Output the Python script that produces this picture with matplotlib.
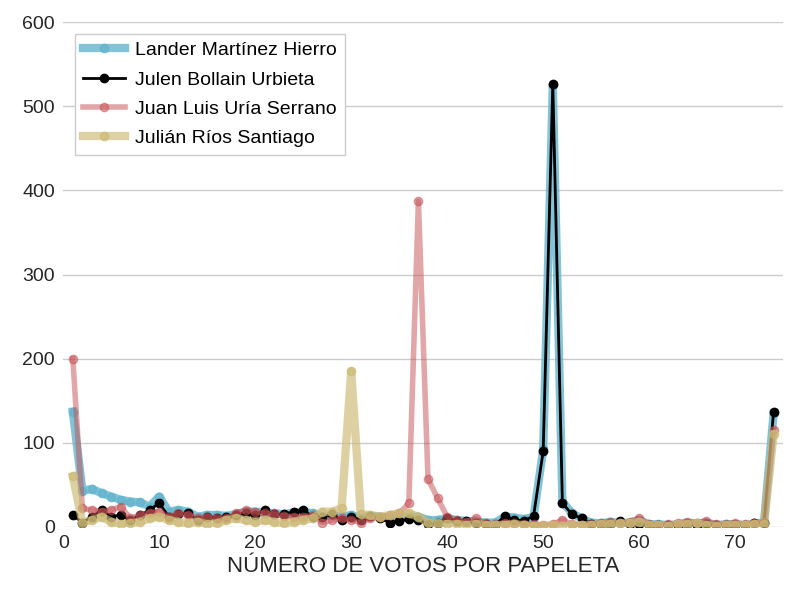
import numpy as np
import matplotlib.pyplot as plt

# votos por papeleta: 1..74
x = np.arange(1, 75)

lander = [137, 43, 45, 40, 36, 32, 30, 29, 24, 36,
          18, 20, 18, 12, 14, 14, 13, 15, 18, 18,
          17, 16, 15, 17, 18, 16, 12, 14, 12, 14,
          10, 13, 12, 10, 10, 12, 12, 8, 8, 10,
          8, 7, 6, 5, 5, 12, 11, 9, 12, 92,
          525, 30, 16, 10, 5, 4, 6, 4, 5, 8,
          3, 3, 2, 3, 5, 4, 5, 2, 3, 3,
          2, 4, 5, 135]

julen = [14, 5, 12, 20, 12, 14, 8, 14, 20, 28,
         12, 15, 16, 8, 12, 11, 12, 14, 17, 14,
         20, 15, 15, 18, 20, 12, 12, 15, 8, 12,
         8, 13, 10, 5, 7, 9, 8, 3, 4, 10,
         7, 7, 4, 3, 2, 13, 8, 7, 13, 90,
         527, 28, 15, 10, 3, 3, 3, 7, 3, 3,
         2, 2, 2, 2, 3, 2, 3, 2, 2, 2,
         2, 5, 4, 137]

juan_luis = [200, 22, 20, 18, 20, 24, 10, 14, 17, 18,
             12, 16, 14, 10, 12, 10, 10, 16, 20, 18,
             16, 15, 13, 12, 12, 14, 5, 8, 10, 8,
             5, 10, 12, 14, 16, 28, 387, 57, 34, 12,
             8, 6, 10, 4, 3, 5, 4, 3, 3, 2,
             3, 8, 3, 2, 3, 5, 6, 4, 6, 10,
             3, 2, 3, 4, 6, 5, 7, 3, 3, 5,
             3, 4, 6, 115]

julian = [60, 5, 8, 12, 6, 3, 4, 6, 10, 12,
          8, 6, 4, 6, 3, 4, 8, 10, 8, 6,
          8, 6, 4, 6, 8, 10, 18, 18, 22, 185,
          15, 14, 12, 14, 16, 16, 12, 5, 4, 3,
          3, 2, 3, 2, 2, 2, 3, 2, 1, 1,
          2, 1, 2, 2, 2, 3, 3, 4, 4, 6,
          2, 2, 1, 3, 3, 4, 2, 1, 2, 2,
          2, 3, 3, 110]

plt.rcParams['font.family'] = ['Liberation Sans', 'DejaVu Sans']

fig = plt.figure(figsize=(8, 6), dpi=100)
ax = fig.add_axes([0.079, 0.122, 0.900, 0.841])

ax.plot(x, lander, color='#64b5cd', lw=6, alpha=0.8, marker='o', ms=6, label='Lander Martínez Hierro')
ax.plot(x, julen, color='black', lw=2, marker='o', ms=6, label='Julen Bollain Urbieta')
ax.plot(x, juan_luis, color='#c44e52', lw=4, alpha=0.5, marker='o', ms=6, label='Juan Luis Uría Serrano')
ax.plot(x, julian, color='#ccb974', lw=6, alpha=0.65, marker='o', ms=6, label='Julián Ríos Santiago')

ax.set_xlim(0, 75)
ax.set_ylim(0, 600)
ax.set_yticks(range(0, 601, 100))
ax.set_xticks(range(0, 71, 10))
ax.yaxis.grid(True, color='#cccccc', lw=1)
ax.set_axisbelow(True)
for s in ax.spines.values():
    s.set_visible(False)
ax.tick_params(length=0, labelsize=14, colors='#262626', pad=6)
ax.set_xlabel('NÚMERO DE VOTOS POR PAPELETA', fontsize=16, color='#262626', labelpad=3)

leg = ax.legend(loc='upper left', fontsize=14, frameon=True, fancybox=False,
                borderaxespad=0.6, handlelength=2.2, handletextpad=0.5,
                labelspacing=0.6)
leg.get_frame().set_edgecolor('#cccccc')
leg.get_frame().set_facecolor('white')
leg.get_frame().set_alpha(1)

fig.savefig('out.png')
